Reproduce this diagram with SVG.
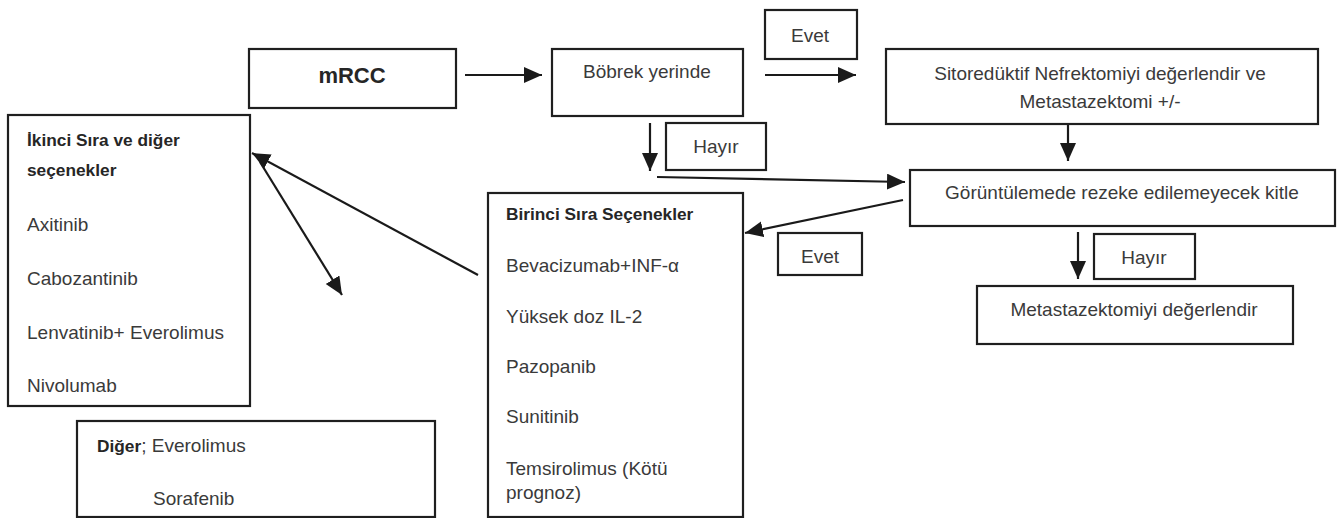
<svg xmlns="http://www.w3.org/2000/svg" width="1343" height="518" viewBox="0 0 1343 518">
<style>
.box{fill:#fff;stroke:#1f1f1f;stroke-width:2.2}
.t{font-family:"Liberation Sans",Arial,sans-serif;font-size:19px;fill:#3a3a3a}
.b{font-family:"Liberation Sans",Arial,sans-serif;font-size:17.3px;font-weight:bold;fill:#262626}
.c{text-anchor:middle}
.ln{fill:none;stroke:#1a1a1a;stroke-width:2.2}
</style>
<defs>
<marker id="ah" markerUnits="userSpaceOnUse" markerWidth="19" markerHeight="17" refX="18" refY="8" orient="auto">
<path d="M0,0 L18,8 L0,16 Z" fill="#1a1a1a"/>
</marker>
</defs>
<rect width="1343" height="518" fill="#fff"/>
<g id="connectors">
<line class="ln" x1="465" y1="75" x2="542" y2="75" marker-end="url(#ah)"/>
<line class="ln" x1="765" y1="75" x2="856" y2="75" marker-end="url(#ah)"/>
<line class="ln" x1="650" y1="123" x2="650" y2="171" marker-end="url(#ah)"/>
<line class="ln" x1="1068" y1="124" x2="1068" y2="161" marker-end="url(#ah)"/>
<line class="ln" x1="657" y1="177" x2="905" y2="182" marker-end="url(#ah)"/>
<line class="ln" x1="903" y1="200" x2="745" y2="233" marker-end="url(#ah)"/>
<line class="ln" x1="1078" y1="232" x2="1078" y2="279" marker-end="url(#ah)"/>
<line class="ln" x1="478" y1="275" x2="252" y2="153" marker-end="url(#ah)"/>
<line class="ln" x1="260" y1="162" x2="342" y2="295" marker-end="url(#ah)"/>
</g>
<g id="mrcc">
<rect class="box" x="249" y="49" width="207" height="59"/>
<text class="b c" x="352" y="83" style="font-size:22px">mRCC</text>
</g>
<g id="bobrek">
<rect class="box" x="552" y="49" width="191" height="67"/>
<text class="t" x="583" y="78">Böbrek yerinde</text>
</g>
<g id="evet1">
<rect class="box" x="765" y="10" width="92" height="49"/>
<text class="t c" x="810" y="42">Evet</text>
</g>
<g id="sitoreduktif">
<rect class="box" x="886" y="49" width="432" height="75"/>
<text class="t c" x="1100" y="80">Sitoredüktif Nefrektomiyi değerlendir ve</text>
<text class="t c" x="1100" y="108">Metastazektomi +/-</text>
</g>
<g id="hayir1">
<rect class="box" x="666" y="123" width="100" height="47"/>
<text class="t c" x="716" y="153">Hayır</text>
</g>
<g id="goruntuleme">
<rect class="box" x="910" y="170" width="425" height="56"/>
<text class="t c" x="1122" y="199">Görüntülemede rezeke edilemeyecek kitle</text>
</g>
<g id="evet2">
<rect class="box" x="778" y="233" width="84" height="42"/>
<text class="t c" x="820" y="263">Evet</text>
</g>
<g id="hayir2">
<rect class="box" x="1094" y="234" width="101" height="45"/>
<text class="t c" x="1144" y="264">Hayır</text>
</g>
<g id="metastazektomi">
<rect class="box" x="977" y="286" width="316" height="58"/>
<text class="t c" x="1134" y="316">Metastazektomiyi değerlendir</text>
</g>
<g id="birinci">
<rect class="box" x="488" y="193" width="255" height="324"/>
<text class="b" x="506" y="220">Birinci Sıra Seçenekler</text>
<text class="t" x="506" y="272">Bevacizumab+INF-α</text>
<text class="t" x="506" y="323">Yüksek doz IL-2</text>
<text class="t" x="506" y="373">Pazopanib</text>
<text class="t" x="506" y="423">Sunitinib</text>
<text class="t" x="506" y="475">Temsirolimus (Kötü</text>
<text class="t" x="506" y="499">prognoz)</text>
</g>
<g id="ikinci">
<rect class="box" x="8" y="115" width="242" height="291"/>
<text class="b" x="27" y="146">İkinci Sıra ve diğer</text>
<text class="b" x="27" y="176">seçenekler</text>
<text class="t" x="27" y="231">Axitinib</text>
<text class="t" x="27" y="285">Cabozantinib</text>
<text class="t" x="27" y="339">Lenvatinib+ Everolimus</text>
<text class="t" x="27" y="392">Nivolumab</text>
</g>
<g id="diger">
<rect class="box" x="77" y="421" width="358" height="96"/>
<text class="t" x="97" y="452"><tspan class="b">Diğer</tspan>; Everolimus</text>
<text class="t" x="153" y="505">Sorafenib</text>
</g>
</svg>
